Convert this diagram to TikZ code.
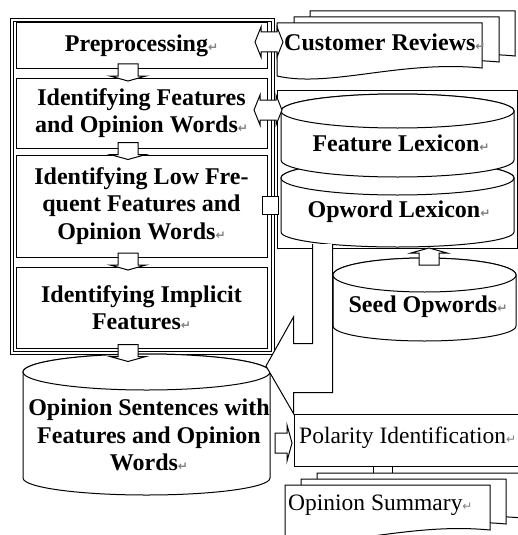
\documentclass[tikz,border=0pt]{standalone}
\usepackage{fontspec}
\setmainfont{Liberation Serif}
\newfontfamily\symf{DejaVu Sans}
\usetikzlibrary{calc}
\newcommand{\retmark}{{\symf\color{gray}\fontsize{12}{12}\selectfont ↵}}
\newcommand{\cylpath}[6]{%
  \draw[ln] (#1,#3) -- (#1,#4) arc[start angle=180,end angle=0,x radius={(#2-#1)/2},y radius=#6]
     -- (#2,#3) arc[start angle=0,end angle=-180,x radius={(#2-#1)/2},y radius=#5] -- cycle;
  \draw[ln] ({(#1+#2)/2},#3) ellipse[x radius={(#2-#1)/2},y radius=#5];
}
\tikzset{
  ln/.style={draw=black, line width=1pt, fill=white},
  bt/.style={font=\fontsize{24}{27.5}\selectfont\bfseries, align=center, inner sep=0pt},
  rt/.style={font=\fontsize{23.5}{27.5}\selectfont, inner sep=0pt},
  pbox/.style={ln, inner sep=0pt, minimum width=251pt},
  downarr/.pic={\draw[ln] (-10,-9) -- (10,-9) -- (10,3) -- (18,3) -- (0,8) -- (-18,3) -- (-10,3) -- cycle;},
  lrarr/.pic={\draw[ln] (-8,-10) -- (8,-10) -- (8,-15) -- (14,0) -- (8,15) -- (8,10) -- (-8,10) -- (-8,15) -- (-14,0) -- (-8,-15) -- cycle;},
  docshape/.pic={\draw[ln] (0,0) -- (205,0) -- (205,45) .. controls (123,37) and (53,65) .. (0,53) -- cycle;}
}
\begin{document}
\begin{tikzpicture}[x=1pt,y=-1pt]
\clip (0,0) rectangle (518,535);
\fill[white] (0,0) rectangle (518,535);

% left frame (double line)
\draw[ln] (10,19) rectangle (274,354);
\draw[line width=1pt] (13,22) rectangle (271,351);

% process boxes
\node[pbox, minimum height=45pt, bt] (pre) at (141.5,45.5) {Preprocessing\retmark};
\node[pbox, minimum height=70pt, bt] (feat) at (141.5,113) {Identifying Features\\and Opinion Words\retmark};
\node[pbox, minimum height=102pt, bt] (low) at (141.5,206) {Identifying Low Fre-\\quent Features and\\Opinion Words\retmark};
\node[pbox, minimum height=81pt, bt] (impl) at (141.5,307.5) {Identifying Implicit\\Features\retmark};

% lexicon group
\node[ln, inner sep=0pt, minimum width=240pt, minimum height=158pt] (grp) at (397,169) {};

% cylinders
\cylpath{281}{514}{178}{232}{17}{15}
\node[bt] (olex) at (399,212) {Opword Lexicon\retmark};
\cylpath{281}{514}{111}{160}{17}{17}
\node[bt] (flex) at (401,143) {Feature Lexicon\retmark};
\cylpath{333}{516}{275}{326}{17}{15}
\node[bt] (seed) at (428,307) {Seed Opwords\retmark};
\cylpath{23}{270}{372}{478}{18}{17}
\node[bt] (osent) at (149,435) {Opinion Sentences with\\Features and Opinion\\Words\retmark};

% customer reviews (multi document)
\pic (crC) at (310,11) {docshape};
\pic (crB) at (294,17) {docshape};
\pic (crA) at (277,23) {docshape};
\node[bt, anchor=base west] (cr) at (284,51) {Customer Reviews\retmark};

% bent arrow from lexicons to polarity / sentences
\draw[ln] (312.5,244) -- (312.5,343.5) -- (293.5,343.5) -- (293.5,317) -- (266,366) -- (293.5,413.5)
   -- (293.5,392.5) -- (332.5,392.5) -- (332.5,244);

% polarity identification
\node[ln, inner sep=0pt, anchor=north west, minimum width=235pt, minimum height=52pt] (pol) at (293.5,413.5) {};
\node[rt, anchor=base west] (polt) at (299,443) {Polarity Identification\retmark};

% small connector to summary
\node[ln, inner sep=0pt, minimum width=19pt, minimum height=10pt] (cps) at (382.5,471) {};

% opinion summary (multi document)
\pic (osC) at (317,473) {docshape};
\pic (osB) at (301,479) {docshape};
\pic (osA) at (285,485) {docshape};
\node[rt, anchor=base west] (os) at (288,510) {Opinion Summary\retmark};

% block arrows between process steps
\pic at ($(pre.south)!0.5!(feat.north)+(-13.5,0)$) {downarr};
\pic at ($(feat.south)!0.5!(low.north)+(-13.5,0)$) {downarr};
\pic at ($(low.south)!0.5!(impl.north)+(-13.5,0)$) {downarr};
\pic at ($(impl.south)+(-13.5,5)$) {downarr};

% connectors to the right column
\pic at (269,42) {lrarr};
\pic at (268,110) {lrarr};
\node[ln, inner sep=0pt, minimum width=16pt, minimum height=18pt] (c3) at (270,205) {};
\pic[rotate=180] at (429,256) {downarr};
\pic[rotate=90] at (284,443) {downarr};
\end{tikzpicture}
\end{document}
